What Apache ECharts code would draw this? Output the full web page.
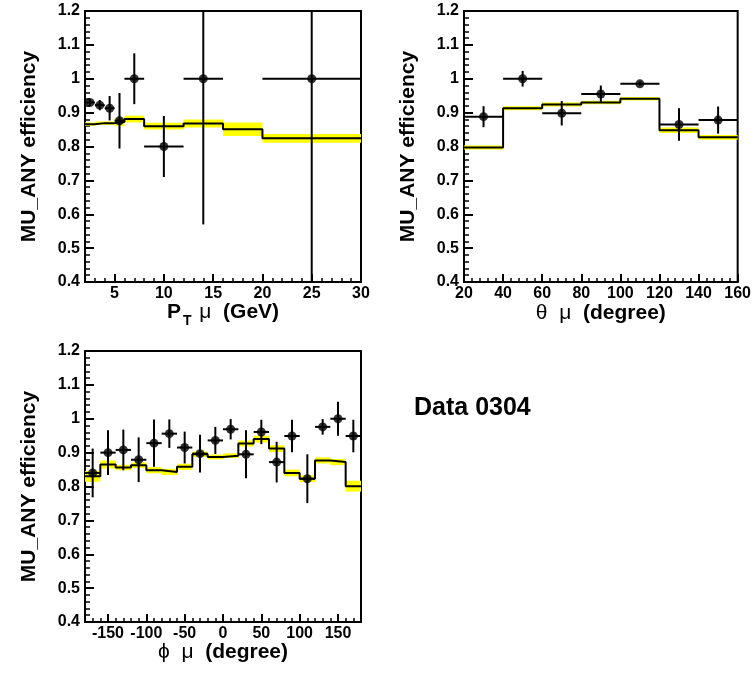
<!DOCTYPE html>
<html><head><meta charset="utf-8">
<script src="https://cdn.jsdelivr.net/npm/echarts@6/dist/echarts.min.js"></script>
<style>html,body{margin:0;padding:0;background:#fff}#c{width:754px;height:678px}</style>
</head><body><div id="c"></div>
<script>
// ---- P_T panel ----
const ptEdges = [2, 3, 4, 5, 6, 8, 12, 16, 20, 30];
const ptMC = [0.866, 0.869, 0.869, 0.872, 0.881, 0.860, 0.868, 0.851, 0.824];
const ptMCErr = [0.005, 0.005, 0.005, 0.012, 0.010, 0.010, 0.012, 0.020, 0.013];
const ptX = [2.5, 3.5, 4.5, 5.5, 7, 10, 14, 25];
const ptY = [0.930, 0.922, 0.913, 0.876, 1.0, 0.80, 1.0, 1.0];
const ptXErr = [0.5, 0.5, 0.5, 0.5, 1, 2, 2, 5];
const ptYErr = [0.010, 0.015, 0.036, 0.082, 0.075, 0.09, 0.43, 0.75];
const ptTicks = [5, 10, 15, 20, 25, 30];

// ---- theta panel ----
const thEdges = [20, 40, 60, 80, 100, 120, 140, 160];
const thMC = [0.797, 0.913, 0.924, 0.930, 0.941, 0.848, 0.827];
const thMCErr = [0.006, 0.006, 0.006, 0.005, 0.005, 0.008, 0.007];
const thX = [30, 50, 70, 90, 110, 130, 150];
const thY = [0.888, 1.0, 0.898, 0.955, 0.985, 0.865, 0.878];
const thXErr = [10, 10, 10, 10, 10, 10, 10];
const thYErr = [0.031, 0.023, 0.036, 0.025, 0.006, 0.048, 0.040];

// ---- phi panel ----
const phEdges = [-180, -160, -140, -120, -100, -80, -60, -40, -20, 0, 20, 40, 60, 80, 100, 120, 140, 160, 180];
const phMC = [0.830, 0.865, 0.856, 0.863, 0.848, 0.843, 0.858, 0.895, 0.887, 0.891, 0.927, 0.940, 0.912, 0.840, 0.823, 0.877, 0.872, 0.801];
const phMCErr = [0.016, 0.012, 0.008, 0.008, 0.009, 0.009, 0.009, 0.008, 0.007, 0.007, 0.009, 0.010, 0.010, 0.010, 0.010, 0.009, 0.009, 0.016];
const phX = [-170, -150, -130, -110, -90, -70, -50, -30, -10, 10, 30, 50, 70, 90, 110, 130, 150, 170];
const phY = [0.840, 0.900, 0.908, 0.879, 0.928, 0.956, 0.915, 0.897, 0.936, 0.969, 0.895, 0.961, 0.872, 0.949, 0.823, 0.976, 1.0, 0.949];
const phXErr = [10, 10, 10, 10, 10, 10, 10, 10, 10, 10, 10, 10, 10, 10, 10, 10, 10, 10];
const phYErr = [0.072, 0.066, 0.060, 0.066, 0.070, 0.042, 0.047, 0.056, 0.040, 0.030, 0.071, 0.036, 0.060, 0.048, 0.072, 0.023, 0.050, 0.048];
const phTicks = [-150, -100, -50, 0, 50, 100, 150];

const yTitle = 'MU_ANY efficiency';
const dataLabel = 'Data 0304';

const Y_MIN = 0.4, Y_MAX = 1.2;
const FONT = 'Liberation Sans';

function bandRender(params, api) {
  const lo = api.value(0), hi = api.value(1), v = api.value(2), e = api.value(3);
  const a = api.coord([lo, Math.min(v + e, Y_MAX)]);
  const b = api.coord([hi, Math.max(v - e, Y_MIN)]);
  return { type: 'rect', shape: { x: a[0], y: a[1], width: b[0] - a[0], height: b[1] - a[1] }, style: { fill: '#ffff00' } };
}
function errRender(params, api) {
  const x = api.value(0), y = api.value(1), xe = api.value(2), ye = api.value(3);
  const l = api.coord([x - xe, y]), r = api.coord([x + xe, y]);
  const t = api.coord([x, Math.min(y + ye, Y_MAX)]), b = api.coord([x, Math.max(y - ye, Y_MIN)]);
  return { type: 'group', children: [
    { type: 'line', shape: { x1: l[0], y1: l[1], x2: r[0], y2: r[1] }, style: { stroke: '#000', lineWidth: 2 } },
    { type: 'line', shape: { x1: t[0], y1: t[1], x2: b[0], y2: b[1] }, style: { stroke: '#000', lineWidth: 2 } }
  ] };
}

function panelSeries(idx, edges, mc, mcErr, xs, ys, xe, ye) {
  const band = mc.map((v, i) => [edges[i], edges[i + 1], v, mcErr[i]]);
  const step = mc.map((v, i) => [edges[i], v]).concat([[edges[edges.length - 1], mc[mc.length - 1]]]);
  const pts = xs.map((x, i) => [x, ys[i], xe[i], ye[i]]);
  return [
    { type: 'custom', xAxisIndex: idx, yAxisIndex: idx, renderItem: bandRender, data: band, encode: { x: [0, 1], y: [2] }, z: 1, silent: true },
    { type: 'line', xAxisIndex: idx, yAxisIndex: idx, data: step, step: 'end', symbol: 'none', lineStyle: { color: '#000', width: 2 }, z: 2, silent: true },
    { type: 'custom', xAxisIndex: idx, yAxisIndex: idx, renderItem: errRender, data: pts, encode: { x: 0, y: 1 }, z: 3, silent: true },
    { type: 'scatter', xAxisIndex: idx, yAxisIndex: idx, data: pts.map(p => [p[0], p[1]]), symbol: 'circle', symbolSize: 9, itemStyle: { color: '#000' }, z: 4, silent: true }
  ];
}

const tickLbl = { color: '#000', fontFamily: FONT, fontWeight: 'bold', fontSize: 16 };
function yAxisMain(gi) {
  return {
    type: 'value', gridIndex: gi, min: Y_MIN, max: Y_MAX, interval: 0.1,
    axisLine: { show: true, onZero: false, lineStyle: { color: '#000', width: 2 } },
    axisTick: { show: true, inside: true, length: 9, lineStyle: { color: '#000', width: 2 } },
    minorTick: { show: true, splitNumber: 5, length: 5, lineStyle: { color: '#000', width: 1.5 } },
    splitLine: { show: false },
    axisLabel: Object.assign({ margin: 5 }, tickLbl),
    name: yTitle, nameLocation: 'middle', nameGap: 45,
    nameTextStyle: { color: '#000', fontFamily: FONT, fontWeight: 'bold', fontSize: 21 }
  };
}
function yAxisHidden(gi) {
  return { type: 'value', gridIndex: gi, min: Y_MIN, max: Y_MAX, show: false, axisLine: { onZero: false } };
}
function richName(head, sym, tail, sub) {
  const rich = {
    b: { fontFamily: FONT, fontWeight: 'bold', fontSize: 21, lineHeight: 24, verticalAlign: 'top', color: '#000' },
    m: { fontFamily: FONT, fontWeight: 'normal', fontSize: 21, lineHeight: 24, verticalAlign: 'top', color: '#000' },
    s: { fontFamily: FONT, fontWeight: 'bold', fontSize: 14, lineHeight: 16, verticalAlign: 'top', padding: [12, 2, 0, 2], color: '#000' }
  };
  let txt = '';
  if (head) txt += '{b|' + head + '}';
  if (sub) txt += '{s|' + sub + '}';
  txt += '{m|' + sym + '}';
  txt += '{b|' + tail + '}';
  return { name: txt, rich: rich };
}

const ptName = richName('P', ' \u03bc  ', '(GeV)', 'T');
const thName = richName('', '\u03b8  \u03bc  ', '(degree)', '');
const phName = richName('', '\u03d5  \u03bc  ', '(degree)', '');

const gridA = { left: 85, top: 11, width: 276, height: 271, show: true, borderColor: '#000', borderWidth: 2, backgroundColor: 'transparent' };
const gridB = { left: 464, top: 11, width: 276, height: 271, show: true, borderColor: '#000', borderWidth: 2, backgroundColor: 'transparent' };
const gridC = { left: 85, top: 351, width: 276, height: 271, show: true, borderColor: '#000', borderWidth: 2, backgroundColor: 'transparent' };
function overlay(g) { return Object.assign({}, g, { show: false }); }

const minorX = (len) => ({ show: true, inside: true, length: len, lineStyle: { color: '#000', width: 1.5 } });
const majorX = { show: true, inside: true, length: 8, lineStyle: { color: '#000', width: 2 } };

const option = {
  animation: false,
  backgroundColor: '#fff',
  grid: [gridA, overlay(gridA), gridB, gridC, overlay(gridC)],
  xAxis: [
    { type: 'value', gridIndex: 0, min: 2, max: 30, interval: 1,
      axisLine: { show: true, onZero: false, lineStyle: { color: '#000', width: 2 } },
      axisTick: minorX(4), axisLabel: { show: false }, splitLine: { show: false },
      name: ptName.name, nameLocation: 'middle', nameGap: 20, nameTextStyle: { rich: ptName.rich } },
    { type: 'value', gridIndex: 1, min: 2, max: 30,
      axisLine: { show: false, onZero: false },
      axisTick: Object.assign({ customValues: ptTicks }, majorX),
      axisLabel: Object.assign({ customValues: ptTicks, margin: 4 }, tickLbl), splitLine: { show: false } },
    { type: 'value', gridIndex: 2, min: 20, max: 160, interval: 20,
      axisLine: { show: true, onZero: false, lineStyle: { color: '#000', width: 2 } },
      axisTick: majorX, minorTick: { show: true, splitNumber: 5, length: 4, lineStyle: { color: '#000', width: 1.5 } },
      axisLabel: Object.assign({ margin: 4 }, tickLbl), splitLine: { show: false },
      name: thName.name, nameLocation: 'middle', nameGap: 20, nameTextStyle: { rich: thName.rich } },
    { type: 'value', gridIndex: 3, min: -180, max: 180, interval: 10,
      axisLine: { show: true, onZero: false, lineStyle: { color: '#000', width: 2 } },
      axisTick: minorX(4), axisLabel: { show: false }, splitLine: { show: false },
      name: phName.name, nameLocation: 'middle', nameGap: 20, nameTextStyle: { rich: phName.rich } },
    { type: 'value', gridIndex: 4, min: -180, max: 180,
      axisLine: { show: false, onZero: false },
      axisTick: Object.assign({ customValues: phTicks }, majorX),
      axisLabel: Object.assign({ customValues: phTicks, margin: 4 }, tickLbl), splitLine: { show: false } }
  ],
  yAxis: [yAxisMain(0), yAxisHidden(1), yAxisMain(2), yAxisMain(3), yAxisHidden(4)],
  graphic: [
    { type: 'text', left: 414, top: 396, style: { text: dataLabel, fill: '#000', font: 'bold 25px "Liberation Sans"' } }
  ],
  series: [].concat(
    panelSeries(0, ptEdges, ptMC, ptMCErr, ptX, ptY, ptXErr, ptYErr),
    panelSeries(2, thEdges, thMC, thMCErr, thX, thY, thXErr, thYErr),
    panelSeries(3, phEdges, phMC, phMCErr, phX, phY, phXErr, phYErr)
  )
};

const chart = echarts.init(document.getElementById('c'), null, { renderer: 'canvas' });
chart.setOption(option);
</script>
</body></html>
